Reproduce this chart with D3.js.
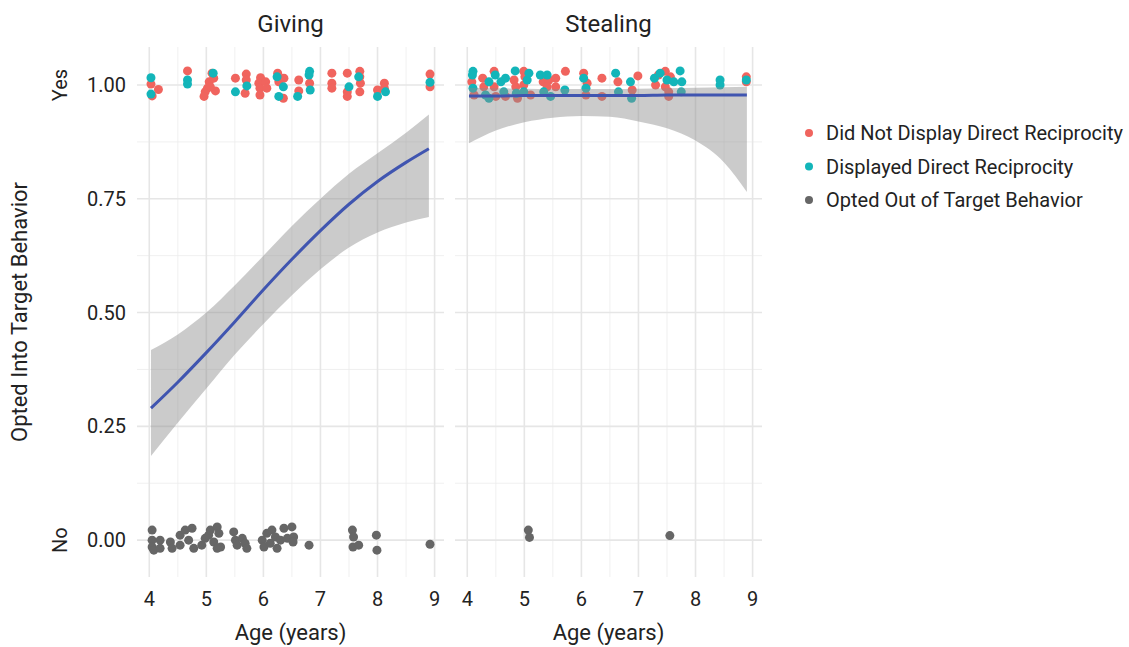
<!DOCTYPE html>
<html>
<head>
<meta charset="utf-8">
<script src="https://cdn.jsdelivr.net/npm/d3@7"></script>
<style>
  body { margin: 0; background: #fff; }
  text { font-family: Roboto, "Liberation Sans", sans-serif; fill: #222; }
</style>
</head>
<body>
<div id="vis"></div>
<script>
// chart: opted into target behaviour by age, faceted Giving / Stealing

const FRAME_WIDTH = 1129;
const FRAME_HEIGHT = 647;

const panels = ["Giving", "Stealing"];
const groups = ["Did Not Display Direct Reciprocity", "Displayed Direct Reciprocity", "Opted Out of Target Behavior"];
const groupColors = ["#F0645E", "#13B5B9", "#666666"];

const xTicks = [4, 5, 6, 7, 8, 9];
const xMinor = [4.5, 5.5, 6.5, 7.5, 8.5];
const yTicks = [0, 0.25, 0.5, 0.75, 1];
const yMinor = [0.125, 0.375, 0.625, 0.875];
const yOutcomeTicks = [0, 1];
const yOutcomeLabels = ["No", "Yes"];

// jittered points [age, value]
const givingNotDisplayed = [[4.03,1.002],[4.16,0.99],[4.05,0.976],[4.67,1.031],[4.98,0.985],[4.96,0.975],[5.05,1.007],
  [5.13,1.015],[5.16,0.987],[5.1,1.026],[5.02,0.993],[5.07,0.996],[5.51,1.015],[5.7,1.024],[5.7,1.011],[5.68,0.982],
  [5.95,1.016],[5.92,1.004],[5.94,0.993],[5.94,0.978],[6.04,1.007],[6.06,0.993],[6.25,1.026],[6.27,1.007],[6.36,1.015],
  [6.35,0.971],[6.62,1.011],[6.62,0.987],[6.81,1.004],[7.2,1.026],[7.2,1.004],[7.2,0.993],[7.47,1.026],[7.47,0.985],
  [7.47,0.975],[7.69,1.03],[7.69,1.018],[7.7,1.004],[7.69,0.985],[8.0,0.989],[8.12,1.004],[8.12,0.993],[8.92,1.024],[8.92,0.996]];
const givingDisplayed = [[4.03,1.016],[4.03,0.98],[4.67,1.011],[4.67,1.002],[5.12,1.026],[5.51,0.985],[5.71,0.998],
  [6.24,1.018],[6.35,0.996],[6.27,0.975],[6.6,0.975],[6.81,1.03],[6.8,1.022],[6.82,0.989],[7.5,0.996],[7.67,1.018],
  [8.0,0.975],[8.14,0.985],[8.92,1.006]];
const givingOptedOut = [[4.05,0.022],[4.05,0.0],[4.05,-0.015],[4.08,-0.022],[4.19,0],[4.19,-0.018],[4.37,-0.004],
  [4.4,-0.018],[4.54,0.011],[4.54,-0.011],[4.63,0.022],[4.69,0],[4.75,0.026],[4.78,-0.018],[4.92,-0.011],[4.98,0.004],
  [5.04,0.011],[5.07,0.022],[5.13,-0.004],[5.19,0.029],[5.22,0.015],[5.25,-0.015],[5.19,-0.018],[5.48,0.018],[5.51,0],
  [5.54,-0.011],[5.63,0.004],[5.68,-0.007],[5.71,-0.018],[5.98,0],[6.01,-0.015],[6.06,0.015],[6.12,-0.007],[6.15,0.022],
  [6.21,0.007],[6.24,-0.018],[6.3,0],[6.36,0.026],[6.42,0.004],[6.5,0.029],[6.53,0.007],[6.52,-0.004],[6.8,-0.011],
  [7.56,0.022],[7.58,0.007],[7.57,-0.015],[7.67,-0.011],[7.98,0.011],[7.99,-0.022],[8.92,-0.009]];

const stealingNotDisplayed = [[4.08,1.007],[4.12,0.978],[4.27,1.015],[4.29,0.996],[4.47,1.03],[4.47,0.996],[4.5,0.975],
  [4.67,0.975],[4.82,1.011],[4.85,0.996],[4.88,0.971],[4.99,1.03],[5.01,1.018],[4.99,1.0],[5.11,0.978],[5.33,1.007],
  [5.43,1.011],[5.4,0.996],[5.55,1.015],[5.55,0.996],[5.72,1.03],[6.04,1.026],[6.1,1.004],[6.08,0.978],[6.36,1.015],
  [6.36,0.975],[6.64,1.007],[6.89,0.989],[6.99,1.02],[7.3,1.0],[7.35,1.022],[7.47,1.03],[7.47,0.996],[7.53,0.985],
  [7.53,0.975],[7.56,1.018],[8.89,1.018],[8.89,1.007]];
const stealingDisplayed = [[4.1,1.03],[4.09,1.022],[4.1,0.993],[4.32,0.978],[4.38,1.007],[4.38,0.971],[4.49,1.022],
  [4.59,1.007],[4.64,0.985],[4.67,1.015],[4.84,1.031],[4.86,0.982],[4.99,0.985],[5.05,1.011],[5.08,1.026],[5.28,1.022],
  [5.34,0.985],[5.4,1.022],[5.46,0.975],[5.71,0.989],[6.04,1.015],[6.08,0.993],[6.6,1.026],[6.65,0.985],[6.86,1.007],
  [6.88,0.971],[7.28,1.015],[7.38,1.026],[7.5,1.011],[7.62,1.007],[7.73,1.031],[7.76,1.007],[7.75,0.985],[8.43,1.011],
  [8.43,1.0],[8.89,1.011]];
const stealingOptedOut = [[5.07,0.022],[5.09,0.006],[7.55,0.01]];

// fitted curves with confidence band
const fitAge = [4.03, 4.5, 5, 5.5, 6, 6.5, 7, 7.5, 8, 8.5, 8.9];
const givingFit = [0.29, 0.347, 0.412, 0.48, 0.55, 0.617, 0.68, 0.738, 0.788, 0.83, 0.86];
const givingLow = [0.185, 0.258, 0.333, 0.408, 0.475, 0.538, 0.595, 0.643, 0.676, 0.698, 0.71];
const givingHigh = [0.418, 0.452, 0.5, 0.56, 0.625, 0.69, 0.75, 0.805, 0.85, 0.895, 0.935];
const stealingFit = [0.976, 0.976, 0.977, 0.977, 0.977, 0.977, 0.977, 0.978, 0.978, 0.978, 0.978];
const stealingLow = [0.872, 0.9, 0.918, 0.928, 0.932, 0.93, 0.92, 0.905, 0.878, 0.83, 0.765];
const stealingHigh = [0.994, 0.993, 0.992, 0.991, 0.991, 0.991, 0.992, 0.993, 0.994, 0.995, 0.996];

const panelData = [
  {points: [givingNotDisplayed, givingDisplayed, givingOptedOut], fit: givingFit, low: givingLow, high: givingHigh},
  {points: [stealingNotDisplayed, stealingDisplayed, stealingOptedOut], fit: stealingFit, low: stealingLow, high: stealingHigh}
];

const PANEL_LEFT = [137, 455];
const PANEL_WIDTH = 307;
const PANEL_TOP = 47;
const PANEL_BOTTOM = 577;

const svg = d3.select("#vis")
  .append("svg")
    .attr("width", FRAME_WIDTH)
    .attr("height", FRAME_HEIGHT);

const Y_SCALE = d3.scaleLinear()
  .domain([-0.081, 1.0835])
  .range([PANEL_BOTTOM, PANEL_TOP]);

panels.forEach((name, i) => {
  const x0 = PANEL_LEFT[i];
  const X_SCALE = d3.scaleLinear()
    .domain([3.785, 9.165])
    .range([x0, x0 + PANEL_WIDTH]);

  const g = svg.append("g");

  // grid
  g.selectAll(".ymin").data(yMinor).enter().append("line")
    .attr("x1", x0).attr("x2", x0 + PANEL_WIDTH)
    .attr("y1", d => Y_SCALE(d)).attr("y2", d => Y_SCALE(d))
    .attr("stroke", "#ececec").attr("stroke-width", 0.8);
  g.selectAll(".xmin").data(xMinor).enter().append("line")
    .attr("y1", PANEL_TOP).attr("y2", PANEL_BOTTOM)
    .attr("x1", d => X_SCALE(d)).attr("x2", d => X_SCALE(d))
    .attr("stroke", "#ececec").attr("stroke-width", 0.8);
  g.selectAll(".ymaj").data(yTicks).enter().append("line")
    .attr("x1", x0).attr("x2", x0 + PANEL_WIDTH)
    .attr("y1", d => Y_SCALE(d)).attr("y2", d => Y_SCALE(d))
    .attr("stroke", "#e6e6e6").attr("stroke-width", 1.6);
  g.selectAll(".xmaj").data(xTicks).enter().append("line")
    .attr("y1", PANEL_TOP).attr("y2", PANEL_BOTTOM)
    .attr("x1", d => X_SCALE(d)).attr("x2", d => X_SCALE(d))
    .attr("stroke", "#e6e6e6").attr("stroke-width", 1.6);

  // points
  panelData[i].points.forEach((pts, k) => {
    g.selectAll(".pt" + k).data(pts).enter().append("circle")
      .attr("cx", d => X_SCALE(d[0]))
      .attr("cy", d => Y_SCALE(d[1]))
      .attr("r", 4.5)
      .attr("fill", groupColors[k]);
  });

  // smooth band + line
  const rows = fitAge.map((a, j) => ({age: a, fit: panelData[i].fit[j], lo: panelData[i].low[j], hi: panelData[i].high[j]}));
  g.append("path").datum(rows)
    .attr("d", d3.area().curve(d3.curveMonotoneX)
      .x(d => X_SCALE(d.age)).y0(d => Y_SCALE(d.lo)).y1(d => Y_SCALE(d.hi)))
    .attr("fill", "#8c8c8c").attr("fill-opacity", 0.45);
  g.append("path").datum(rows)
    .attr("d", d3.line().curve(d3.curveMonotoneX)
      .x(d => X_SCALE(d.age)).y(d => Y_SCALE(d.fit)))
    .attr("fill", "none").attr("stroke", "#4055B0").attr("stroke-width", 3);

  // x axis labels
  g.selectAll(".xlab").data(xTicks).enter().append("text")
    .attr("x", d => X_SCALE(d)).attr("y", 606)
    .attr("text-anchor", "middle").attr("font-size", "20px")
    .text(d => d);
  g.append("text")
    .attr("x", x0 + PANEL_WIDTH / 2).attr("y", 640)
    .attr("text-anchor", "middle").attr("font-size", "22px")
    .text("Age (years)");

  // strip title
  g.append("text")
    .attr("x", x0 + PANEL_WIDTH / 2).attr("y", 32)
    .attr("text-anchor", "middle").attr("font-size", "24px")
    .text(name);
});

// y axis
svg.selectAll(".ylab").data(yTicks).enter().append("text")
  .attr("x", 126).attr("y", d => Y_SCALE(d) + 7)
  .attr("text-anchor", "end").attr("font-size", "20px")
  .text(d => d3.format(".2f")(d));

svg.selectAll(".yout").data(yOutcomeTicks).enter().append("text")
  .attr("transform", d => "translate(67," + Y_SCALE(d) + ") rotate(-90)")
  .attr("text-anchor", "middle").attr("font-size", "20px")
  .text((d, j) => yOutcomeLabels[j]);

svg.append("text")
  .attr("transform", "translate(27," + ((PANEL_TOP + PANEL_BOTTOM) / 2) + ") rotate(-90)")
  .attr("text-anchor", "middle").attr("font-size", "22px")
  .text("Opted Into Target Behavior");

// legend
const legend = svg.append("g").attr("transform", "translate(809,133)");
legend.selectAll("circle").data(groups).enter().append("circle")
  .attr("cx", 0).attr("cy", (d, j) => j * 33.5)
  .attr("r", 4).attr("fill", (d, j) => groupColors[j]);
legend.selectAll("text").data(groups).enter().append("text")
  .attr("x", 17).attr("y", (d, j) => j * 33.5 + 7)
  .attr("font-size", "20px")
  .text(d => d);
</script>
</body>
</html>
